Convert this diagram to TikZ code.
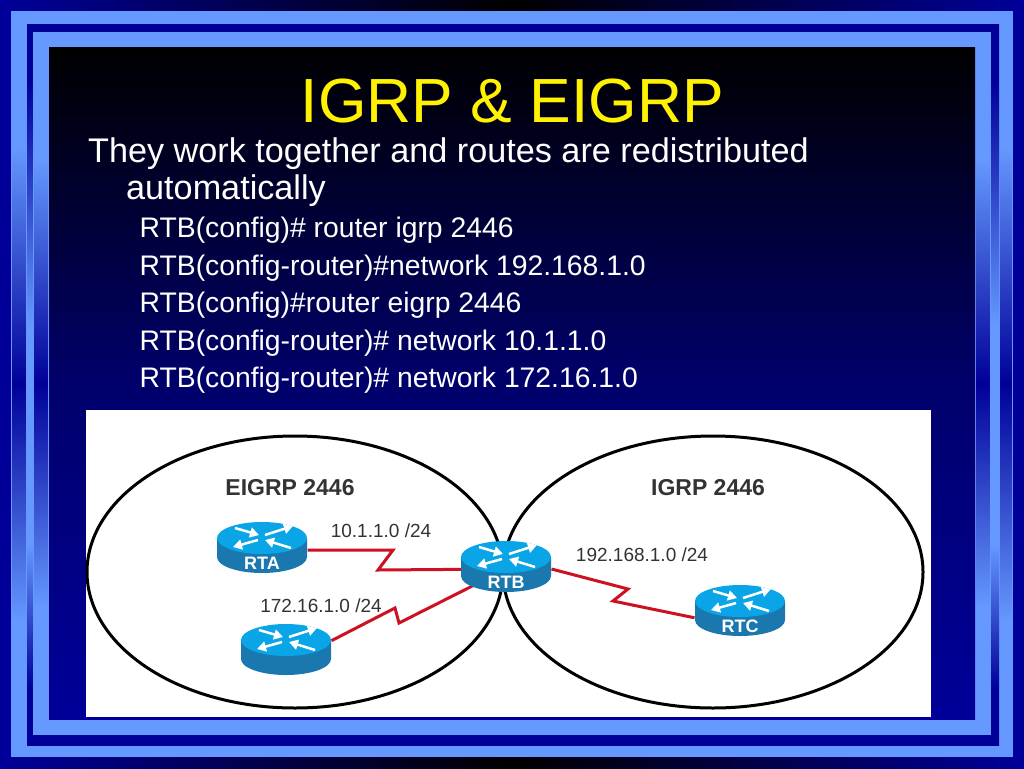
\documentclass[tikz,border=0pt]{standalone}
\usepackage{fontspec}
\setmainfont{Liberation Sans}
\usetikzlibrary{shapes.geometric,arrows.meta}

\definecolor{outerblue}{HTML}{000099}
\definecolor{bandlight}{HTML}{6699FF}
\definecolor{routertop}{HTML}{0AA5E6}
\definecolor{routerside}{HTML}{1B78AE}
\definecolor{linkred}{HTML}{CC1122}
\definecolor{labelgrey}{HTML}{333333}

\pgfdeclareverticalshading{bandshade}{100bp}{color(0bp)=(bandlight); color(34bp)=(bandlight); color(50bp)=(outerblue); color(66bp)=(bandlight); color(100bp)=(bandlight)}
\pgfdeclareverticalshading{gapshade}{100bp}{color(0bp)=(outerblue); color(29bp)=(outerblue); color(39bp)=(bandlight); color(54bp)=(bandlight); color(71bp)=(outerblue); color(100bp)=(outerblue)}
\pgfdeclareverticalshading{panelshade}{100bp}{color(0bp)=(outerblue); color(25bp)=(outerblue); color(50bp)=(outerblue!70!black); color(75bp)=(black); color(100bp)=(black)}

\tikzset{
  band/.style={shading=bandshade, draw=bandlight, line width=1},
  gap/.style={shading=gapshade},
  titletext/.style={anchor=base, inner sep=0, text=yellow, font=\fontsize{62.4}{64}\selectfont},
  bodytext/.style={anchor=base west, inner sep=0, text=white, font=\fontsize{34.2}{36}\selectfont},
  subtext/.style={anchor=base west, inner sep=0, text=white, font=\fontsize{28.3}{30}\selectfont},
  area/.style={ellipse, draw=black, line width=3, inner sep=0, outer sep=0},
  areatext/.style={anchor=base, inner sep=0, text=labelgrey, font=\fontsize{23}{23}\selectfont\bfseries},
  nettext/.style={anchor=base, inner sep=0, text=labelgrey, font=\fontsize{19}{19}\selectfont},
  routerspot/.style={rectangle, inner sep=0, outer sep=0, minimum width=91, minimum height=52},
  link/.style={draw=linkred, line width=3, line join=miter},
  routerarrow/.style={draw=white, line width=2.5, -{Triangle[length=9,width=10]}},
  router/.pic={
    \fill[routerside] (-45,-12) -- (-45,7) arc[start angle=180, end angle=0, x radius=45, y radius=16] -- (45,-12) -- cycle;
    \fill[routertop] (0,-12) ellipse [x radius=45, y radius=16];
    \draw[routerarrow] (-27,-22) -- (-3,-15);
    \draw[routerarrow] (3,-15) -- (31,-24);
    \draw[routerarrow] (-4,-10) -- (-29,-3);
    \draw[routerarrow] (29,-2) -- (3,-10);
    \node[text=white, font=\fontsize{18}{18}\selectfont\bfseries] at (0,13) {#1};
  }
}

\begin{document}
\begin{tikzpicture}[x=1pt,y=-1pt]

  \useasboundingbox (0,0) rectangle (1024,768);

  % frame
  \fill[outerblue] (0,0) rectangle (1024,768);
  \shade[left color=outerblue, right color=outerblue, middle color=black] (0,0) rectangle (1024,11);
  \shade[left color=outerblue, right color=outerblue, middle color=black] (0,757) rectangle (1024,768);

  \path[band] (11.5,11.5) rectangle (26.5,756.5);
  \path[band] (999.5,11.5) rectangle (1012.5,756.5);
  \path[gap]  (27,24) rectangle (33,746);
  \path[gap]  (991,24) rectangle (999,746);
  \path[band] (33.5,32.5) rectangle (48.5,734.5);
  \path[band] (975.5,32.5) rectangle (990.5,734.5);

  \fill[bandlight] (11,11) rectangle (1013,24);
  \fill[bandlight] (11,746) rectangle (1013,757);
  \fill[bandlight] (33,32) rectangle (991,48);
  \fill[bandlight] (33,719) rectangle (991,735);
  \shade[shading=panelshade] (49,48) rectangle (975,719);

  % slide text
  \node[titletext] (title) at (512.5,122) {IGRP \& EIGRP};
  \node[bodytext] (line1) at (88,162.5) {They work together and routes are redistributed};
  \node[bodytext] (line2) at (126,199.5) {automatically};
  \node[subtext] (cmd1) at (139.5,237.5) {RTB(config)\# router igrp 2446};
  \node[subtext] (cmd2) at (139.5,275.5) {RTB(config-router)\#network 192.168.1.0};
  \node[subtext] (cmd3) at (139.5,312.5) {RTB(config)\#router eigrp 2446};
  \node[subtext] (cmd4) at (139.5,350.5) {RTB(config-router)\# network 10.1.1.0};
  \node[subtext] (cmd5) at (139.5,387.5) {RTB(config-router)\# network 172.16.1.0};

  % network figure
  \fill[white] (86,410) rectangle (931,717);

  \node[area, minimum width=416, minimum height=272] (eigrp) at (295,572) {};
  \node[area, minimum width=420, minimum height=272] (igrp) at (713,572) {};

  \node[areatext] (eigrplabel) at (290,495.5) {EIGRP 2446};
  \node[areatext] (igrplabel) at (708,495.5) {IGRP 2446};
  \node[nettext] (net10) at (381,537) {10.1.1.0 /24};
  \node[nettext] (net172) at (321,612) {172.16.1.0 /24};
  \node[nettext] (net192) at (642,561) {192.168.1.0 /24};

  \node[routerspot] (RTA) at (262,550) {};
  \node[routerspot] (RTB) at (506,569) {};
  \node[routerspot] (RTC) at (740,613) {};
  \node[routerspot] (RTD) at (286,652) {};

  \draw[link] (RTA.east) -- (393,550) -- (378,570) -- (RTB.center);
  \draw[link] (RTD.14) -- (395,608) -- (399,623) -- (RTB.center);
  \draw[link] (RTB.east) -- (628,589) -- (613,601) -- (RTC.186);

  \pic at (RTA.center) {router=RTA};
  \pic at (RTB.center) {router=RTB};
  \pic at (RTC.center) {router=RTC};
  \pic at (RTD.center) {router={}};

\end{tikzpicture}
\end{document}
